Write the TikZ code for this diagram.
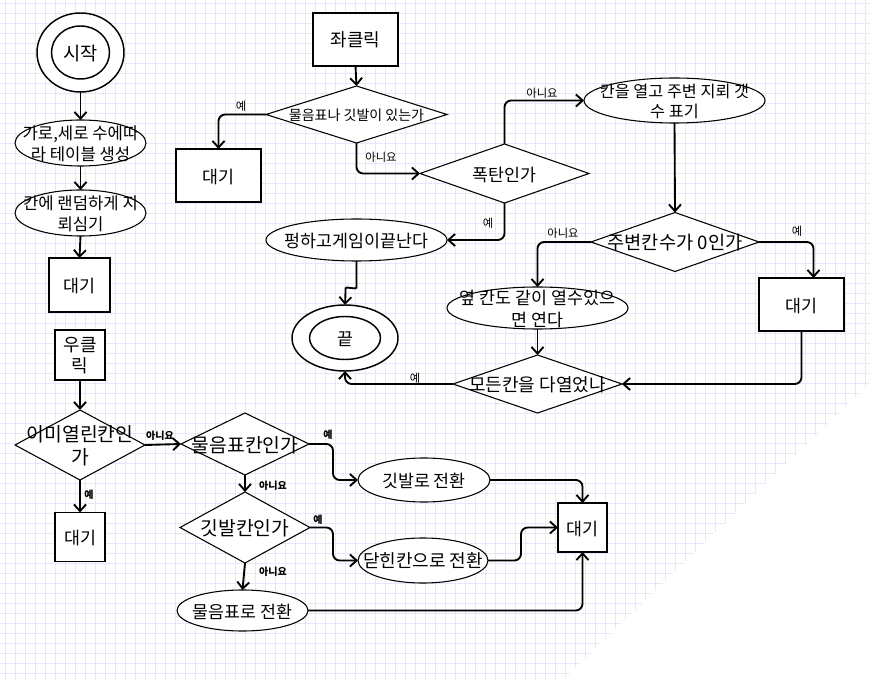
\documentclass[tikz,border=0pt]{standalone}
\usepackage{fontspec}
\setmainfont{Noto Sans CJK KR}
\usetikzlibrary{shapes.geometric,arrows.meta}
\newcommand\ntxt[1]{\smash{\makebox[0pt]{\raisebox{-0.42em}{\begin{tabular}{@{}c@{}}#1\end{tabular}}}}}
\definecolor{gridc}{RGB}{232,230,248}
\tikzset{
  sz/.style 2 args={minimum width=#1*0.75pt, minimum height=#2*0.75pt},
  base/.style={draw=black, fill=white, line width=0.8pt, inner sep=0pt, outer sep=0pt,
               font=\fontsize{13}{16}\selectfont},
  fs/.style={font=\fontsize{#1}{1.2*#1}\selectfont},
  boxn/.style={base, rectangle},
  ell/.style={base, ellipse},
  dia/.style={base, diamond},
  ring/.style={draw=black, line width=1.1pt, ellipse, inner sep=0pt, outer sep=0pt},
  arr/.style={-{Straight Barb[length=5pt,width=9pt]}, line width=1.4pt, rounded corners=5pt},
  lab/.style={font=\fontsize{8.5}{10}\selectfont, inner sep=0pt},
  blab/.style={font=\bfseries\fontsize{7.5}{9}\selectfont, inner sep=0pt},
}
\begin{document}
\begin{tikzpicture}[x=0.75pt,y=-0.75pt]
\useasboundingbox (0,0) rectangle (870,680);
\fill[white] (0,0) rectangle (870,680);
\foreach \i in {0,...,86} {\draw[gridc, line width=0.7pt] (5+10*\i,0) -- (5+10*\i,680);}
\foreach \j in {0,...,67} {\draw[gridc, line width=0.7pt] (0,3+10*\j) -- (870,3+10*\j);}
\fill[white] (870,383) -- (870,680) -- (563,680) -- cycle;

% left column
\node[ell, ring, fill=white, sz={87}{79}, font=\fontsize{14}{16}\selectfont] (start) at (80.5,52.5) {\ntxt{시작}};
\node[ring, sz={58}{53}] (starti) at (80.5,52.5) {};
\node[ell, font=\fontsize{12.5}{15.5}\selectfont, sz={131}{46}] (tbl) at (80.5,143) {\ntxt{가로,세로 수에따\\라 테이블 생성}};
\node[ell, font=\fontsize{12.5}{15.5}\selectfont, sz={131}{46}] (mine) at (80.5,213) {\ntxt{칸에 랜덤하게 지\\뢰심기}};
\node[boxn, sz={61}{54}] (w1) at (79.5,285) {\ntxt{대기}};

\node[boxn, sz={50}{50}, font=\fontsize{13.5}{16}\selectfont] (rc) at (80,355) {\ntxt{우클\\릭}};
\node[dia, font=\fontsize{14.5}{16.5}\selectfont, sz={130}{70}] (dopen) at (80,445) {\ntxt{이미열린칸인\\가}};
\node[boxn, sz={50}{49}] (w2) at (80,537) {\ntxt{대기}};
\node[dia, font=\fontsize{14.5}{16}\selectfont, sz={128}{62}] (dq) at (245,444) {\ntxt{물음표칸인가}};
\node[dia, font=\fontsize{14.5}{16}\selectfont, sz={130}{71}] (df) at (245,527.5) {\ntxt{깃발칸인가}};
\node[ell, sz={131}{41}] (etoq) at (242.5,610.5) {\ntxt{물음표로 전환}};
\node[ell, font=\fontsize{13}{15}\selectfont, sz={132}{44}] (etof) at (424,480) {\ntxt{깃발로 전환}};
\node[ell, font=\fontsize{13.5}{15}\selectfont, sz={130}{45}] (eclose) at (423,560.5) {\ntxt{닫힌칸으로 전환}};
\node[boxn, sz={49}{49}] (w3) at (582.5,527.5) {\ntxt{대기}};

% top middle
\node[boxn, sz={85}{53}, font=\fontsize{13.5}{16}\selectfont] (lc) at (355.5,39.5) {\ntxt{좌클릭}};
\node[dia, font=\fontsize{10.5}{12}\selectfont, sz={181}{57}] (dq1) at (356.5,114.5) {\ntxt{물음표나 깃발이 있는가}};
\node[boxn, sz={85}{53}] (w4) at (218.5,175.5) {\ntxt{대기}};
\node[dia, sz={169}{59}] (dbomb) at (504.5,173.5) {\ntxt{폭탄인가}};
\node[ell, font=\fontsize{12.2}{15.5}\selectfont, sz={181}{45}] (eopen) at (674.5,100.5) {\ntxt{칸을 열고 주변 지뢰 갯\\수 표기}};
\node[ell, sz={181}{42}] (epung) at (356.5,240) {\ntxt{펑하고게임이끝난다}};
\node[ell, ring, fill=white, sz={106}{66}] (endo) at (345,338) {\ntxt{끝}};
\node[ring, sz={71}{43}] (endi) at (345,338) {};
\node[dia, font=\fontsize{14}{16}\selectfont, sz={168}{59}] (dzero) at (675,242) {\ntxt{주변칸수가 0인가}};
\node[boxn, sz={85}{53}] (w5) at (801.5,304.5) {\ntxt{대기}};
\node[ell, sz={181}{42}] (eside) at (537.5,308) {\ntxt{옆 칸도 같이 열수있으\\면 연다}};
\node[dia, font=\fontsize{13.5}{16}\selectfont, sz={169}{58}] (dall) at (537.5,384) {\ntxt{모든칸을 다열었나}};

% connectors left
\draw[arr] (start.south) -- (tbl.north);
\draw[arr] (tbl.south) -- (mine.north);
\draw[arr] (mine.south) -- (w1.north);
\draw[arr] (rc.south) -- (dopen.north);
\draw[arr] (dopen.east) -- (dq.west);
\draw[arr] (dopen.south) -- (w2.north);
\draw[arr] (dq.south) -- (df.north);
\draw[arr] (df.south) -- (etoq.north);
\draw[arr] (dq.east) -- ++(24,0) |- (etof.west);
\draw[arr] (df.east) -- ++(23,0) |- (eclose.west);
\draw[arr] (etof.east) -| (w3.north);
\draw[arr] (eclose.east) -- ++(33,0) |- (w3.west);
\draw[arr] (etoq.east) -| (w3.south);

% connectors top
\draw[arr] (lc.south) -- (dq1.north);
\draw[arr] (dq1.west) -| (w4.north);
\draw[arr] (dq1.south) |- (dbomb.west);
\draw[arr] (dbomb.north) |- (eopen.west);
\draw[arr] (dbomb.south) |- (epung.east);
\draw[arr] (epung.south) -- ++(0,20) .. controls +(0,9) and +(0,-9) .. ++(-11,14) -- (endo.north);
\draw[arr] (eopen.south) -- (dzero.north);
\draw[arr] (dzero.east) -| ([xshift=9pt]w5.north);
\draw[arr] (dzero.west) -| (eside.north);
\draw[arr] (eside.south) -- (dall.north);
\draw[arr] (w5.south) |- (dall.east);
\draw[arr] (dall.west) -| (endo.south);

% labels
\node[lab] (l1) at (241,106) {예};
\node[lab] (l2) at (381,157) {아니요};
\node[lab] (l3) at (542,93) {아니요};
\node[lab] (l4) at (488,223) {예};
\node[lab] (l5) at (563,233) {아니요};
\node[lab] (l6) at (797,231) {예};
\node[lab] (l7) at (415,378) {예};
\node[blab] (b1) at (160,436) {아니요};
\node[blab] (b2) at (89,495) {예};
\node[blab] (b3) at (328,435) {예};
\node[blab] (b4) at (273,486) {아니요};
\node[blab] (b5) at (318,520) {예};
\node[blab] (b6) at (273,572) {아니요};
\end{tikzpicture}
\end{document}
